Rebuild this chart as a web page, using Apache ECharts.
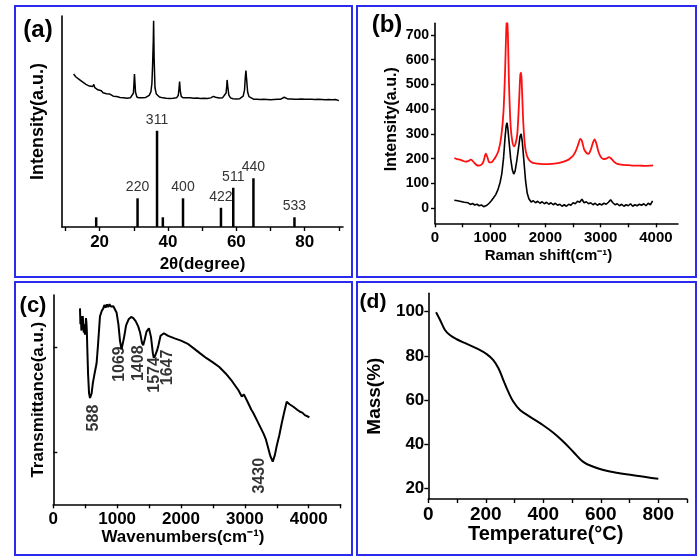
<!DOCTYPE html>
<html><head><meta charset="utf-8">
<script src="https://cdn.jsdelivr.net/npm/echarts@6/dist/echarts.min.js"></script>
<style>html,body{margin:0;padding:0;background:#fff}#c{width:700px;height:559px}</style>
</head><body><div id="c"></div>
<script>
// ---------- (a) XRD ----------
const xrdRefPos = [19.0, 31.1, 36.8, 38.5, 44.4, 55.5, 59.1, 65.0, 77.0];
const xrdRefInt = [4.6, 13.6, 45.6, 4.6, 13.6, 9.1, 18.6, 23.1, 4.6];
const xrdRefHkl = ['', '220', '311', '', '400', '422', '511', '440', '533'];
const xrdPattern = [
 [12.4,72.5],[13,71.2],[13.5,71.8],[14,70.0],[14.5,69.6],[15,68.8],[15.5,69.2],[16,67.6],[16.5,67.9],[17,66.8],
 [17.5,66.2],[18,66.6],[18.3,67.6],[18.6,66.0],[19,65.4],[19.5,65.0],[20,64.2],[20.5,64.6],[21,63.6],[21.5,63.9],
 [22,63.2],[22.5,62.6],[23,63.0],[23.5,62.4],[24,62.0],[24.5,62.5],[25,61.8],[25.5,62.1],[26,61.4],[26.5,61.9],
 [27,61.3],[27.5,61.6],[28,61.0],[28.5,61.5],[29,61.2],[29.5,61.7],[29.9,63.5],[30.2,72.5],[30.5,64.0],[30.9,61.6],
 [31.5,61.2],[32,61.8],[32.5,61.3],[33,61.6],[33.5,61.4],[34,62.0],[34.5,62.4],[35,64.0],[35.3,68.0],[35.5,76.5],
 [35.7,88],[35.8,97.8],[35.95,80],[36.2,66],[36.6,63.0],[37,62.2],[37.5,61.6],[38,61.9],[38.5,61.2],[39,61.5],
 [39.5,61.0],[40,61.4],[40.5,60.9],[41,61.3],[41.5,61.0],[42,61.6],[42.5,61.2],[43,62.3],[43.2,65],[43.4,68.9],
 [43.6,64.5],[43.9,61.8],[44.5,61.2],[45,60.8],[45.5,61.3],[46,60.9],[46.5,61.2],[47,60.6],[47.5,61.0],[48,60.7],
 [48.5,61.1],[49,60.5],[49.5,60.9],[50,60.6],[50.5,61.0],[51,60.5],[51.5,60.9],[52,60.7],[52.5,61.2],[53,61.0],
 [53.3,61.9],[53.6,62.8],[53.9,61.5],[54.3,60.8],[55,61.1],[55.5,60.7],[56,61.3],[56.5,61.5],[57,63.5],[57.2,67],
 [57.3,69.7],[57.5,66.5],[57.8,62.5],[58.3,61.2],[59,60.8],[59.5,61.2],[60,60.7],[60.5,61.1],[61,60.8],[61.5,61.3],
 [62,62.0],[62.4,65],[62.6,70.5],[62.8,74.1],[63.0,70.2],[63.3,64.0],[63.7,61.8],[64.2,61.0],[65,60.6],[65.5,61.0],
 [66,60.5],[66.5,60.9],[67,60.4],[67.5,60.8],[68,60.5],[68.5,60.9],[69,60.4],[69.5,60.8],[70,60.3],[70.5,60.7],
 [71,60.4],[71.5,60.9],[72,60.5],[72.5,60.8],[73,60.6],[73.5,61.0],[74,61.5],[74.2,62.0],[74.5,61.4],[75,60.7],
 [75.5,60.4],[76,60.7],[76.5,60.3],[77,60.6],[77.5,60.2],[78,60.6],[78.5,60.3],[79,60.7],[79.5,60.2],[80,60.5],
 [80.5,60.2],[81,60.6],[81.5,60.3],[82,60.5],[82.5,60.1],[83,60.4],[83.5,60.1],[84,60.5],[84.5,60.2],[85,60.4],
 [85.5,60.1],[86,60.3],[86.5,60.0],[87,60.4],[87.5,60.1],[88,60.3],[88.5,60.0],[89,60.4],[89.5,60.1],[90,59.9]
];
const xrdTicks = [10,20,30,40,50,60,70,80,90];
const xrdLabels = [20,40,60,80];

// ---------- (b) Raman ----------
const ramanRed = [
 [350,203],[400,198],[450,196],[500,192],[550,188],[600,190],[650,196],[700,186],[750,175],[800,172],
 [850,178],[880,190],[920,220],[950,205],[980,186],[1020,185],[1060,195],[1100,208],[1150,232],[1200,290],
 [1240,390],[1270,560],[1290,720],[1305,770],[1320,700],[1340,500],[1370,330],[1400,270],[1430,250],[1460,262],
 [1490,300],[1520,420],[1545,540],[1560,548],[1575,480],[1600,340],[1630,250],[1660,215],[1700,196],[1750,186],
 [1800,182],[1900,179],[2000,178],[2100,179],[2200,181],[2300,186],[2400,194],[2450,202],[2500,212],[2550,232],
 [2600,262],[2630,280],[2660,272],[2700,238],[2750,222],[2780,220],[2820,236],[2860,265],[2890,278],[2920,262],
 [2960,228],[3000,208],[3050,198],[3100,200],[3150,206],[3200,198],[3250,186],[3300,179],[3400,175],[3500,174],
 [3600,172],[3700,172],[3800,171],[3900,172],[3950,173]
];
const ramanBlack = [
 [350,32],[380,25],[410,30],[440,22],[470,27],[500,20],[530,24],[560,18],[600,22],[640,15],
 [680,19],[720,13],[760,16],[800,10],[840,13],[880,6],[900,10],[940,12],[980,20],[1020,30],
 [1060,42],[1100,55],[1140,75],[1180,105],[1210,140],[1240,200],[1270,290],[1290,335],[1305,345],[1320,320],
 [1345,260],[1370,200],[1400,155],[1425,138],[1450,150],[1480,190],[1510,240],[1540,290],[1560,300],[1580,270],
 [1610,190],[1640,110],[1670,60],[1700,38],[1740,25],[1780,30],[1820,22],[1860,28],[1900,20],[1940,26],
 [1980,18],[2020,24],[2060,16],[2100,22],[2140,14],[2180,20],[2220,12],[2260,16],[2300,8],[2340,14],
 [2380,8],[2420,16],[2460,12],[2500,22],[2540,18],[2580,28],[2620,24],[2660,36],[2700,22],[2740,26],
 [2780,18],[2820,22],[2860,14],[2900,20],[2940,12],[2980,18],[3020,13],[3060,20],[3100,16],[3140,24],
 [3180,34],[3220,22],[3260,14],[3300,18],[3340,10],[3380,16],[3420,8],[3460,14],[3500,10],[3540,18],
 [3580,8],[3620,14],[3660,10],[3700,16],[3740,12],[3780,18],[3820,10],[3860,20],[3900,14],[3940,30]
];
const ramanXTicks = [0,500,1000,1500,2000,2500,3000,3500,4000];
const ramanXLabels = [0,1000,2000,3000,4000];
const ramanYLabels = [0,100,200,300,400,500,600,700];

// ---------- (c) FTIR ----------
const ftir = [
 [418,93.6],[425,86],[432,90],[440,83],[448,88],[455,84],[462,90],[470,85],[478,82],[488,86],
 [496,81],[505,84],[512,89],[518,87.2],[525,83],[535,72],[545,62],[560,53],[575,50.8],[588,50.6],
 [600,53],[620,58],[650,63],[678,67.4],[700,76],[731,89.8],[760,92.5],[783,93.6],[800,95.2],[820,94],
 [840,95.5],[860,94.2],[880,95.6],[900,94.5],[920,95.4],[940,94.6],[966,93.8],[992,91.5],[1020,86],[1045,78],
 [1069,74],[1090,74.5],[1110,80],[1140,85.5],[1180,88.4],[1220,89.5],[1253,88.9],[1290,87.5],[1330,85],[1360,82],
 [1390,77],[1408,76],[1430,78.5],[1460,82.5],[1498,84.1],[1530,80],[1560,72],[1574,70],[1595,71],[1625,73.5],
 [1647,76],[1680,80.5],[1733,81.7],[1800,80.5],[1900,79.3],[2000,78.2],[2100,76.8],[2200,74.5],[2300,72.1],[2400,69.8],
 [2500,67.8],[2600,65.6],[2700,62.5],[2800,58.8],[2900,54.5],[2952,51.5],[2985,52.5],[3015,52.5],[3050,48.5],[3100,45.3],
 [3135,43.5],[3200,39.5],[3291,33.9],[3330,31],[3369,26.5],[3400,23],[3437,20.4],[3470,23.5],[3500,28],[3540,33],
 [3578,38.7],[3620,44.5],[3656,49],[3682,49.8],[3700,47.8],[3720,48.5],[3760,46.6],[3790,46.8],[3820,45.2],[3865,44.2],
 [3900,43.8],[3940,42.6],[3970,42.3],[4011,41.6]
];
const ftirPeakNames = ['588','1069','1408','1574','1647','3430'];
const ftirPeakLabelX = [626,1045,1331,1582,1791,3237];
const ftirPeakLabelY = [41.2,67,67.4,61.8,65.4,13.7];
const ftirXTicks = [0,500,1000,1500,2000,2500,3000,3500,4000,4500];
const ftirXLabels = [0,1000,2000,3000,4000];
const ftirYTicks = [25,75];

// ---------- (d) TGA ----------
const tga = [
 [27,99.7],[41,96.2],[58,91.7],[75,89.4],[99,87.5],[134,85.4],[168,83.4],[203,80.8],[226,78.1],[244,74.4],
 [261,69],[278,63.8],[296,59.2],[319,55.5],[354,52.4],[394,49.1],[435,45.2],[470,41.1],[504,36.6],[539,32],
 [574,29.8],[609,28.3],[655,27.1],[713,26],[771,24.8],[800,24.4]
];
const tgaXTicks = [0,100,200,300,400,500,600,700,800,900];
const tgaXLabels = [0,200,400,600,800];
const tgaYLabels = [20,40,60,80,100];

const FONT = "'Liberation Sans', Arial, sans-serif";
const plain = v => String(v);

function xAxis(gi, min, max, ticks, labels, name, fs, nfs, gap, margin, pad) {
  return {
    type:'value', gridIndex:gi, min:min, max:max,
    axisLine:{show:true, onZero:false, lineStyle:{color:'#000', width:1.6}},
    axisTick:{show:true, length:4, lineStyle:{color:'#000', width:1.4}, customValues:ticks},
    axisLabel:{show:labels.length>0, customValues:labels, formatter:plain, color:'#000', fontFamily:FONT, fontWeight:'bold', fontSize:fs, margin:margin},
    splitLine:{show:false},
    name:name, nameLocation:'middle', nameGap:gap,
    nameTextStyle:{color:'#000', fontFamily:FONT, fontWeight:'bold', fontSize:nfs, padding:pad || 0}
  };
}
function yAxis(gi, min, max, ticks, labels, name, fs, nfs, gap, margin, inside, pad) {
  return {
    type:'value', gridIndex:gi, min:min, max:max,
    axisLine:{show:true, onZero:false, lineStyle:{color:'#000', width:1.6}},
    axisTick:{show:ticks.length>0, inside:!!inside, length:4, lineStyle:{color:'#000', width:1.4}, customValues:ticks},
    axisLabel:{show:labels.length>0, customValues:labels, formatter:plain, color:'#000', fontFamily:FONT, fontWeight:'bold', fontSize:fs, margin:margin},
    splitLine:{show:false},
    name:name, nameLocation:'middle', nameGap:gap, nameRotate:90,
    nameTextStyle:{color:'#000', fontFamily:FONT, fontWeight:'bold', fontSize:nfs, padding:pad || 0}
  };
}

const panelFrame = {stroke:'#2b2bee', lineWidth:2, fill:'none'};
const option = {
  animation:false,
  backgroundColor:'#fff',
  grid:[
    {left:62, top:16, width:281, height:211, outerBoundsMode:'none'},
    {left:435, top:23.3, width:243, height:200, outerBoundsMode:'none'},
    {left:53.3, top:295, width:287.3, height:209.3, outerBoundsMode:'none'},
    {left:428.3, top:293.3, width:258.75, height:205.7, outerBoundsMode:'none'}
  ],
  xAxis:[
    xAxis(0, 9, 91.2, xrdTicks, xrdLabels, '2θ(degree)', 17, 17, 29, 7),
    xAxis(1, 0, 4400, ramanXTicks, ramanXLabels, 'Raman shift(cm⁻¹)', 15, 15, 25, 7, [0,16,0,0]),
    xAxis(2, 0, 4500, ftirXTicks, ftirXLabels, 'Wavenumbers(cm⁻¹)', 17, 17, 23, 7, [0,28,0,0]),
    xAxis(3, 0, 900, tgaXTicks, tgaXLabels, 'Temperature(°C)', 19, 20, 23, 6, [0,24,0,0])
  ],
  yAxis:[
    yAxis(0, 0, 100, [], [], 'Intensity(a.u.)', 14, 18, 15, 6),
    yAxis(1, -61, 747, ramanYLabels, ramanYLabels, 'Intensity(a.u.)', 14, 16, 35, 6, false, [0,0,0,8]),
    yAxis(2, 0, 100, ftirYTicks, [], 'Transmittance(a.u.)', 14, 17, 6, 6, true),
    yAxis(3, 15.2, 108.3, tgaYLabels, tgaYLabels, 'Mass(%)', 17, 19, 44, 4)
  ],
  series:[
    {type:'line', xAxisIndex:0, yAxisIndex:0, data:xrdPattern, showSymbol:false, symbol:'none', lineStyle:{color:'#000', width:1.5}},
    {type:'bar', xAxisIndex:0, yAxisIndex:0, barWidth:2.5, itemStyle:{color:'#000'},
      data:xrdRefPos.map((p,i)=>[p, xrdRefInt[i]]),
      label:{show:true, position:'top', distance:4, color:'#333', fontFamily:FONT, fontSize:14,
        formatter:p=>xrdRefHkl[p.dataIndex]}},
    {type:'line', xAxisIndex:1, yAxisIndex:1, data:ramanRed, showSymbol:false, symbol:'none', smooth:0.3, lineStyle:{color:'#ff1010', width:1.8}},
    {type:'line', xAxisIndex:1, yAxisIndex:1, data:ramanBlack, showSymbol:false, symbol:'none', lineStyle:{color:'#000', width:1.6}},
    {type:'line', xAxisIndex:2, yAxisIndex:2, data:ftir, showSymbol:false, symbol:'none', lineStyle:{color:'#000', width:2}},
    {type:'scatter', xAxisIndex:2, yAxisIndex:2, symbolSize:0,
      data:ftirPeakLabelX.map((x,i)=>[x, ftirPeakLabelY[i]]),
      label:{show:true, position:'inside', rotate:90, color:'#000', fontFamily:FONT, fontWeight:'bold', fontSize:16,
        formatter:p=>ftirPeakNames[p.dataIndex]}},
    {type:'line', xAxisIndex:3, yAxisIndex:3, data:tga, showSymbol:false, symbol:'none', smooth:0.4, lineStyle:{color:'#000', width:2}}
  ],
  graphic:[
    {type:'rect', shape:{x:15, y:6, width:337, height:271}, style:panelFrame, silent:true},
    {type:'rect', shape:{x:357, y:6, width:339, height:271}, style:panelFrame, silent:true},
    {type:'rect', shape:{x:15, y:282, width:337, height:273}, style:panelFrame, silent:true},
    {type:'rect', shape:{x:357, y:282, width:339, height:273}, style:panelFrame, silent:true},
    {type:'text', style:{text:'(a)', x:38, y:30, align:'center', verticalAlign:'middle', font:"bold 24px 'Liberation Sans'", fill:'#000'}},
    {type:'text', style:{text:'(b)', x:387, y:25, align:'center', verticalAlign:'middle', font:"bold 24px 'Liberation Sans'", fill:'#000'}},
    {type:'text', style:{text:'(c)', x:33, y:306, align:'center', verticalAlign:'middle', font:"bold 22px 'Liberation Sans'", fill:'#000'}},
    {type:'text', style:{text:'(d)', x:373, y:302, align:'center', verticalAlign:'middle', font:"bold 21px 'Liberation Sans'", fill:'#000'}}
  ]
};
const chart = echarts.init(document.getElementById('c'));
chart.setOption(option);
</script>
</body></html>
